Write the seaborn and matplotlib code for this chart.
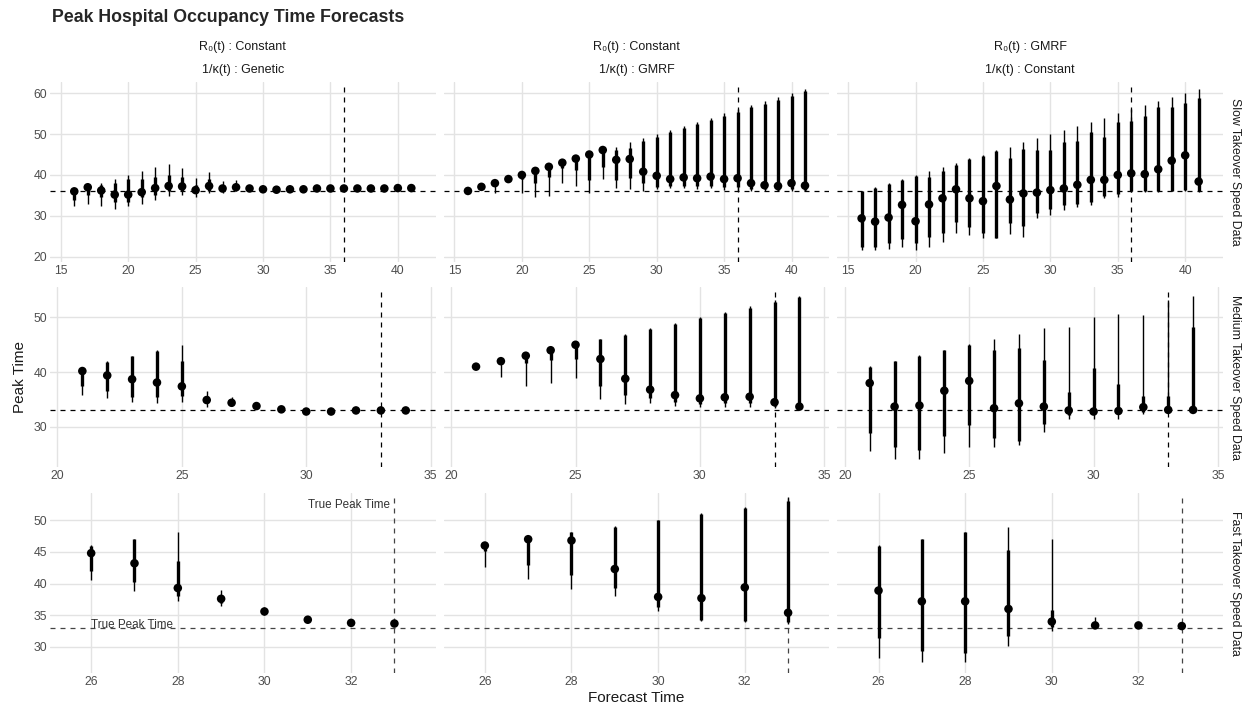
import numpy as np
import pandas as pd
import matplotlib
matplotlib.use("Agg")
import matplotlib.pyplot as plt
import seaborn as sns


COL_TOP = ['R\u2080(t) : Constant', 'R\u2080(t) : Constant', 'R\u2080(t) : GMRF']
COL_BOTTOM = ['1/\u03ba(t) : Genetic', '1/\u03ba(t) : GMRF', '1/\u03ba(t) : Constant']
ROW_NAMES = ['Slow Takeover Speed Data', 'Medium Takeover Speed Data', 'Fast Takeover Speed Data']
TRUE_PEAK = [36, 33, 33]

# forecast times per row
SLOW_X = list(range(16, 42))
MEDIUM_X = list(range(21, 35))
FAST_X = list(range(26, 34))

# --- slow takeover, col 1 (constant / genetic)
slow1_med = [36.0, 37.0, 36.2, 35.2, 35.2, 35.8, 36.8, 37.3, 37.2, 36.3, 37.3, 36.7, 37.0,
             36.7, 36.5, 36.4, 36.5, 36.5, 36.7, 36.7, 36.7, 36.7, 36.7, 36.7, 36.8, 36.8]
slow1_in_lo = [34.0, 35.0, 34.5, 33.5, 33.5, 34.5, 35.0, 36.0, 36.0, 35.5, 36.0, 36.0, 36.5,
               36.4, 36.3, 36.2, 36.3, 36.3, 36.5, 36.5, 36.5, 36.5, 36.5, 36.5, 36.6, 36.6]
slow1_in_hi = [36.5, 37.2, 37.5, 38.0, 39.0, 39.0, 39.5, 40.0, 39.5, 37.5, 39.0, 37.5, 37.5,
               37.0, 36.8, 36.7, 36.8, 36.8, 37.0, 37.0, 37.0, 37.0, 37.0, 37.0, 37.1, 37.1]
slow1_out_lo = [32.3, 33.0, 32.5, 31.8, 32.5, 33.0, 34.0, 34.8, 35.0, 34.5, 35.5, 35.5, 36.0,
                36.2, 36.1, 36.0, 36.1, 36.1, 36.3, 36.3, 36.3, 36.3, 36.3, 36.3, 36.4, 36.4]
slow1_out_hi = [36.6, 37.5, 38.0, 39.0, 40.0, 41.0, 42.0, 42.8, 41.7, 39.2, 40.8, 38.5, 38.7,
                37.3, 37.0, 36.9, 37.0, 37.0, 37.2, 37.2, 37.2, 37.2, 37.2, 37.2, 37.3, 37.3]

# --- slow takeover, col 2 (constant / GMRF)
slow2_med = [36.1, 37.1, 38.0, 39.0, 40.0, 41.0, 42.0, 43.0, 44.0, 45.0, 46.1, 43.7, 43.9,
             40.8, 39.8, 39.0, 39.4, 39.2, 39.6, 39.0, 39.2, 38.0, 37.5, 37.3, 38.0, 37.4]
slow2_in_lo = [36.0, 37.0, 37.5, 38.8, 39.0, 38.0, 39.6, 41.6, 41.2, 38.8, 42.0, 38.8, 39.2,
               38.0, 37.1, 37.2, 37.3, 37.3, 37.4, 37.0, 37.0, 36.5, 36.5, 36.4, 36.5, 36.4]
slow2_in_hi = [36.2, 37.2, 38.1, 39.1, 40.1, 41.1, 42.1, 43.1, 44.1, 45.1, 46.2, 46.1, 46.5,
               48.4, 49.4, 50.4, 51.4, 52.4, 53.4, 54.5, 55.5, 56.5, 57.4, 58.4, 59.4, 60.4]
slow2_out_lo = [35.9, 36.9, 35.5, 38.5, 35.7, 34.7, 34.9, 38.0, 37.3, 35.7, 38.9, 36.7, 36.5,
                36.2, 36.5, 36.7, 36.7, 36.6, 36.7, 36.4, 36.2, 36.0, 36.0, 36.0, 36.1, 36.0]
slow2_out_hi = [36.3, 37.3, 38.2, 39.2, 40.2, 41.2, 42.2, 43.2, 44.2, 45.2, 46.3, 46.9, 48.0,
                49.0, 50.0, 51.0, 52.0, 53.0, 54.0, 55.1, 56.1, 57.1, 58.0, 59.0, 60.0, 61.0]

# --- slow takeover, col 3 (GMRF / constant)
slow3_med = [29.4, 28.6, 29.6, 32.7, 28.7, 32.8, 34.3, 36.5, 34.3, 33.6, 37.3, 34.0, 35.5,
             35.7, 36.3, 36.7, 37.6, 38.8, 38.8, 40.0, 40.4, 40.2, 41.4, 43.5, 44.8, 38.4]
slow3_in_lo = [22.4, 22.3, 23.3, 24.3, 23.4, 24.9, 25.9, 28.6, 27.3, 25.7, 24.6, 28.2, 27.5,
               30.6, 31.6, 32.7, 33.0, 33.5, 34.8, 35.3, 36.0, 36.0, 36.0, 36.2, 36.3, 36.0]
slow3_in_hi = [36.0, 36.8, 37.8, 38.8, 39.8, 39.6, 41.0, 42.5, 43.8, 44.7, 45.8, 44.1, 46.3,
               46.1, 46.1, 48.0, 48.4, 50.6, 49.4, 52.9, 53.1, 54.3, 56.5, 56.5, 57.6, 58.8]
slow3_out_lo = [21.6, 21.6, 21.8, 22.4, 21.6, 22.4, 23.7, 25.7, 25.3, 24.5, 24.5, 25.5, 24.9,
                29.4, 30.2, 31.4, 32.2, 32.7, 34.3, 34.7, 35.8, 35.8, 35.8, 36.0, 36.1, 35.8]
slow3_out_hi = [36.1, 37.0, 38.0, 39.0, 40.0, 41.0, 42.0, 43.0, 44.1, 44.9, 46.0, 46.9, 48.0,
                49.0, 50.0, 51.0, 52.0, 53.0, 54.0, 55.1, 56.1, 57.1, 58.0, 59.0, 60.0, 61.0]

# --- medium takeover
med1_med = [40.2, 39.4, 38.7, 38.1, 37.4, 34.9, 34.4, 33.8, 33.2, 32.8, 32.8, 33.0, 33.0, 33.0]
med1_in_lo = [37.4, 36.5, 35.5, 35.5, 35.7, 34.3, 34.0, 33.6, 33.1, 32.7, 32.7, 32.9, 32.9, 32.9]
med1_in_hi = [40.3, 41.8, 42.9, 43.8, 42.0, 35.7, 34.9, 34.0, 33.4, 33.0, 33.0, 33.1, 33.1, 33.1]
med1_out_lo = [35.8, 35.2, 34.6, 34.4, 34.6, 33.7, 33.8, 33.4, 33.0, 32.6, 32.6, 32.8, 32.8, 32.8]
med1_out_hi = [40.4, 42.0, 43.0, 44.0, 45.0, 36.6, 35.4, 34.2, 33.5, 33.1, 33.1, 33.2, 33.2, 33.2]

med2_med = [41.0, 42.0, 43.0, 44.0, 45.0, 42.4, 38.8, 36.8, 35.8, 35.2, 35.4, 35.5, 34.5, 33.7]
med2_in_lo = [40.9, 41.5, 41.7, 42.2, 42.4, 37.5, 35.8, 35.2, 34.6, 34.2, 34.3, 34.3, 33.9, 33.6]
med2_in_hi = [41.1, 42.1, 43.1, 44.1, 45.1, 46.0, 46.8, 47.8, 48.8, 49.8, 50.8, 51.8, 52.9, 53.8]
med2_out_lo = [40.8, 39.1, 37.4, 38.1, 39.0, 35.0, 34.1, 34.3, 33.8, 33.6, 33.7, 33.7, 33.4, 33.3]
med2_out_hi = [41.2, 42.2, 43.2, 44.2, 45.2, 46.1, 46.9, 48.0, 49.0, 50.0, 51.0, 52.0, 53.1, 54.0]

med3_med = [38.0, 33.7, 33.9, 36.6, 38.4, 33.4, 34.3, 33.7, 33.0, 32.8, 32.9, 33.6, 33.1, 33.1]
med3_in_lo = [28.8, 26.4, 25.8, 28.3, 30.3, 28.0, 27.4, 30.5, 32.2, 32.3, 32.3, 32.8, 32.8, 32.9]
med3_in_hi = [41.0, 42.0, 43.0, 44.0, 45.0, 44.0, 44.5, 42.2, 36.3, 40.8, 37.8, 35.7, 35.7, 48.2]
med3_out_lo = [25.6, 24.2, 24.2, 25.2, 26.4, 26.3, 26.6, 29.1, 31.5, 31.5, 31.4, 32.3, 32.5, 32.8]
med3_out_hi = [41.1, 42.1, 43.1, 44.1, 45.1, 46.0, 46.9, 48.0, 48.3, 50.0, 50.7, 50.4, 53.1, 53.9]

# --- fast takeover
fast1_med = [44.8, 43.2, 39.3, 37.6, 35.6, 34.3, 33.8, 33.7]
fast1_in_lo = [42.0, 40.2, 38.0, 37.0, 35.3, 34.1, 33.7, 33.6]
fast1_in_hi = [46.0, 47.0, 43.5, 38.2, 35.9, 34.5, 33.9, 33.8]
fast1_out_lo = [40.6, 38.9, 37.3, 36.5, 35.0, 34.0, 33.6, 33.5]
fast1_out_hi = [46.1, 47.1, 48.1, 39.0, 36.3, 34.6, 34.0, 33.9]

fast2_med = [46.0, 47.0, 46.8, 42.3, 37.9, 37.7, 39.4, 35.4]
fast2_in_lo = [45.2, 43.0, 41.4, 39.3, 36.3, 34.3, 34.1, 33.9]
fast2_in_hi = [46.1, 47.1, 48.1, 49.0, 50.0, 51.0, 52.0, 53.0]
fast2_out_lo = [42.6, 40.7, 39.2, 38.1, 35.7, 34.1, 33.9, 33.7]
fast2_out_hi = [46.2, 47.2, 48.2, 49.1, 50.1, 51.1, 52.1, 53.7]

fast3_med = [38.9, 37.2, 37.2, 36.0, 34.0, 33.4, 33.4, 33.3]
fast3_in_lo = [31.4, 29.3, 29.1, 31.7, 33.1, 33.2, 33.3, 33.2]
fast3_in_hi = [46.0, 47.0, 48.1, 45.3, 35.9, 33.7, 33.5, 33.4]
fast3_out_lo = [28.3, 27.6, 27.6, 30.1, 32.6, 33.0, 33.2, 33.1]
fast3_out_hi = [46.1, 47.1, 48.2, 49.0, 47.1, 34.7, 33.7, 33.5]


def panel_frame(x, med, in_lo, in_hi, out_lo, out_hi):
    return pd.DataFrame({'x': x, 'med': med, 'in_lo': in_lo, 'in_hi': in_hi,
                         'out_lo': out_lo, 'out_hi': out_hi})


PANELS = [
    [panel_frame(SLOW_X, slow1_med, slow1_in_lo, slow1_in_hi, slow1_out_lo, slow1_out_hi),
     panel_frame(SLOW_X, slow2_med, slow2_in_lo, slow2_in_hi, slow2_out_lo, slow2_out_hi),
     panel_frame(SLOW_X, slow3_med, slow3_in_lo, slow3_in_hi, slow3_out_lo, slow3_out_hi)],
    [panel_frame(MEDIUM_X, med1_med, med1_in_lo, med1_in_hi, med1_out_lo, med1_out_hi),
     panel_frame(MEDIUM_X, med2_med, med2_in_lo, med2_in_hi, med2_out_lo, med2_out_hi),
     panel_frame(MEDIUM_X, med3_med, med3_in_lo, med3_in_hi, med3_out_lo, med3_out_hi)],
    [panel_frame(FAST_X, fast1_med, fast1_in_lo, fast1_in_hi, fast1_out_lo, fast1_out_hi),
     panel_frame(FAST_X, fast2_med, fast2_in_lo, fast2_in_hi, fast2_out_lo, fast2_out_hi),
     panel_frame(FAST_X, fast3_med, fast3_in_lo, fast3_in_hi, fast3_out_lo, fast3_out_hi)],
]

X_LIMS = [(14.2, 42.8), (19.7, 35.2), (25.05, 33.95)]
Y_LIMS = [(18.8, 62.8), (22.6, 55.5), (25.9, 54.3)]
X_TICKS = [[15, 20, 25, 30, 35, 40], [20, 25, 30, 35], [26, 28, 30, 32]]
Y_TICKS = [[20, 30, 40, 50, 60], [30, 40, 50], [30, 35, 40, 45, 50]]

sns.set_theme(style='whitegrid')
plt.rcParams['font.family'] = ['Liberation Sans', 'DejaVu Sans']
plt.rcParams['axes.edgecolor'] = 'none'

fig, axes = plt.subplots(3, 3, figsize=(12.47, 7.09), dpi=100)
fig.subplots_adjust(left=0.0401, right=0.9807, top=0.8848, bottom=0.0508,
                    wspace=0.021, hspace=0.142)

for r in range(3):
    for c in range(3):
        ax = axes[r, c]
        df = PANELS[r][c]
        line_col = 'black' if r < 2 else '#444444'
        ax.axhline(TRUE_PEAK[r], color=line_col, lw=0.9, ls=(0, (4, 4)), zorder=1)
        ax.axvline(TRUE_PEAK[r], color=line_col, lw=0.9, ls=(0, (4, 4)), zorder=1)
        ax.vlines(df['x'], df['out_lo'], df['out_hi'], color='black', lw=1.0, zorder=2)
        ax.vlines(df['x'], df['in_lo'], df['in_hi'], color='black', lw=2.4, zorder=2)
        sns.scatterplot(data=df, x='x', y='med', ax=ax, color='black', s=38,
                        edgecolor='none', zorder=3, legend=False)
        ax.set_xlim(*X_LIMS[r])
        ax.set_ylim(*Y_LIMS[r])
        ax.set_xticks(X_TICKS[r])
        ax.set_yticks(Y_TICKS[r])
        ax.tick_params(length=0, pad=2, labelsize=8.8, colors='#4d4d4d')
        ax.set_xlabel('')
        ax.set_ylabel('')
        if c > 0:
            ax.set_yticklabels([])
        ax.grid(True, color='#e3e3e3', lw=1.0)
        ax.set_axisbelow(True)
        if r == 0:
            ax.text(0.5, 1.19, COL_TOP[c], transform=ax.transAxes, ha='center',
                    va='center', fontsize=9, color='#1a1a1a')
            ax.text(0.5, 1.066, COL_BOTTOM[c], transform=ax.transAxes, ha='center',
                    va='center', fontsize=9, color='#1a1a1a')
        if c == 2:
            ax.text(1.031, 0.5, ROW_NAMES[r], transform=ax.transAxes, rotation=270,
                    ha='center', va='center', fontsize=8.8, color='#1a1a1a')

axes[2, 0].text(26, 32.5, 'True Peak Time', ha='left', va='bottom', fontsize=8.4, color='#333333')
axes[2, 0].text(32.9, 52.4, 'True Peak Time', ha='right', va='center', fontsize=8.4, color='#333333')

axes[1, 0].set_ylabel('Peak Time', fontsize=11, color='#1a1a1a', labelpad=5)
axes[2, 1].set_xlabel('Forecast Time', fontsize=11, color='#1a1a1a', labelpad=2)

fig.text(0.0417, 0.976, 'Peak Hospital Occupancy Time Forecasts', fontsize=12.8,
         fontweight='bold', ha='left', va='center')

fig.savefig('out.png', dpi=100)
